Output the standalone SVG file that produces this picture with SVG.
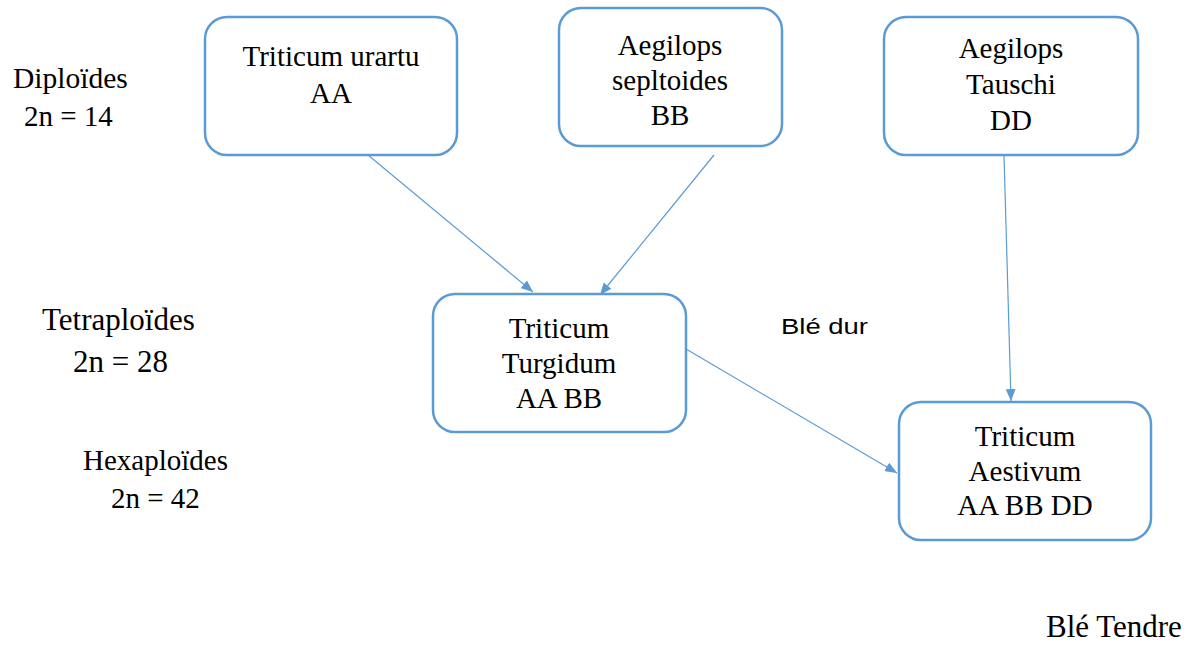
<svg xmlns="http://www.w3.org/2000/svg" width="1192" height="645" viewBox="0 0 1192 645">
<style>
.box{fill:#fff;stroke:#5B9BD5;stroke-width:2.5}
.t{font-family:"Liberation Serif","Times New Roman",serif;font-size:29px;fill:#000;text-anchor:middle}
.l{font-family:"Liberation Serif","Times New Roman",serif;fill:#000}
.s{font-family:"Liberation Sans",Arial,sans-serif;fill:#000}
.c{stroke:#5B9BD5;stroke-width:1.2;fill:none;marker-end:url(#ah)}
</style>
<defs>
<marker id="ah" viewBox="0 0 12 10" refX="12" refY="5" markerWidth="12" markerHeight="10" markerUnits="userSpaceOnUse" orient="auto">
<path d="M0,0 L12,5 L0,10 z" fill="#5B9BD5"/>
</marker>
</defs>
<rect width="1192" height="645" fill="#fff"/>
<g id="labels">
<text class="l" x="13" y="88" font-size="29.5">Diploïdes</text>
<text class="l" x="24" y="126" font-size="29">2n = 14</text>
<text class="l" x="42" y="330" font-size="31">Tetraploïdes</text>
<text class="l" x="73" y="372" font-size="31">2n = 28</text>
<text class="l" x="83" y="470" font-size="29">Hexaploïdes</text>
<text class="l" x="111" y="508" font-size="29">2n = 42</text>
<text class="s" x="781" y="334" font-size="22" textLength="87" lengthAdjust="spacingAndGlyphs">Blé dur</text>
<text class="l" x="1046" y="637" font-size="31">Blé Tendre</text>
</g>
<g id="connectors">
<line class="c" x1="368" y1="155" x2="533" y2="292"/>
<line class="c" x1="714" y1="155" x2="600" y2="295"/>
<line class="c" x1="1004" y1="155" x2="1011" y2="401"/>
<line class="c" x1="686" y1="349" x2="897" y2="473"/>
</g>
<g id="n1">
<rect class="box" x="205" y="17" width="252" height="138" rx="22"/>
<text class="t" x="331" y="66">Triticum urartu</text>
<text class="t" x="331" y="103">AA</text>
</g>
<g id="n2">
<rect class="box" x="559" y="8" width="223" height="138" rx="22"/>
<text class="t" x="670" y="55">Aegilops</text>
<text class="t" x="670" y="90">sepltoides</text>
<text class="t" x="670" y="125">BB</text>
</g>
<g id="n3">
<rect class="box" x="884" y="17" width="254" height="138" rx="22"/>
<text class="t" x="1011" y="58">Aegilops</text>
<text class="t" x="1011" y="94">Tauschi</text>
<text class="t" x="1011" y="130">DD</text>
</g>
<g id="n4">
<rect class="box" x="433" y="294" width="253" height="138" rx="22"/>
<text class="t" x="559" y="338">Triticum</text>
<text class="t" x="559" y="373">Turgidum</text>
<text class="t" x="559" y="408">AA BB</text>
</g>
<g id="n5">
<rect class="box" x="899" y="402" width="252" height="138" rx="22"/>
<text class="t" x="1025" y="446">Triticum</text>
<text class="t" x="1025" y="481">Aestivum</text>
<text class="t" x="1025" y="515">AA BB DD</text>
</g>
</svg>
